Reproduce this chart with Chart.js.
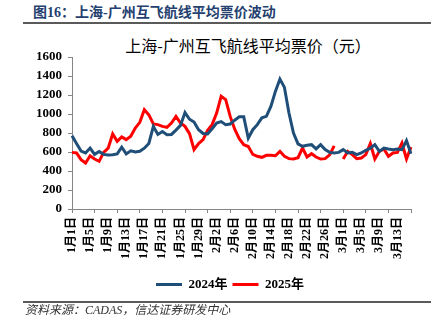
<!DOCTYPE html>
<html><head><meta charset="utf-8">
<script src="https://cdn.jsdelivr.net/npm/chart.js@4/dist/chart.umd.min.js"></script>
<style>
html,body{margin:0;padding:0;background:#fff;}
body{width:440px;height:321px;overflow:hidden;position:relative;}
#c{position:absolute;left:0;top:0;}
.t{position:absolute;white-space:nowrap;}
#hdr{left:33px;top:6px;font:bold 14px/14px 'Liberation Serif','Noto Sans CJK SC',serif;color:#24406F;}
#ttl{left:248px;top:37px;transform:translateX(-50%);font:16px/16px 'Noto Sans CJK SC',serif;color:#000;}
#src{left:25px;top:304px;font:italic 12px/12px 'Liberation Serif','Noto Sans CJK SC',serif;color:#333;}
.rule{position:absolute;left:23px;width:408px;height:0;border-top:2px solid #5a5a5a;}
</style></head>
<body>
<div class="t" id="hdr">图16：上海-广州互飞航线平均票价波动</div>
<div class="rule" style="top:22px"></div>
<div class="t" id="ttl">上海-广州互飞航线平均票价（元）</div>
<canvas id="c" width="440" height="321"></canvas>
<div class="rule" style="top:301px"></div>
<div class="t" id="src">资料来源：CADAS，信达证券研发中心</div>
<script>
const dates = [
 '1月1日','1月2日','1月3日','1月4日','1月5日','1月6日','1月7日','1月8日','1月9日','1月10日',
 '1月11日','1月12日','1月13日','1月14日','1月15日','1月16日','1月17日','1月18日','1月19日','1月20日',
 '1月21日','1月22日','1月23日','1月24日','1月25日','1月26日','1月27日','1月28日','1月29日','1月30日','1月31日',
 '2月1日','2月2日','2月3日','2月4日','2月5日','2月6日','2月7日','2月8日','2月9日','2月10日',
 '2月11日','2月12日','2月13日','2月14日','2月15日','2月16日','2月17日','2月18日','2月19日','2月20日',
 '2月21日','2月22日','2月23日','2月24日','2月25日','2月26日','2月27日','2月28日','2月29日',
 '3月1日','3月2日','3月3日','3月4日','3月5日','3月6日','3月7日','3月8日','3月9日','3月10日',
 '3月11日','3月12日','3月13日','3月14日','3月15日','3月16日'
];
const fare2024 = [
 772,690,610,590,642,575,605,575,568,572,
 580,650,580,612,600,607,640,690,870,785,
 815,782,785,830,880,1015,945,915,835,795,
 790,845,905,920,888,895,935,970,970,745,
 835,888,960,975,1080,1238,1368,1280,1010,800,
 685,660,670,677,632,677,625,596,590,596,
 625,590,596,572,590,618,640,677,607,642,
 632,625,632,625,720,582
];
const fare2025 = [
 596,590,519,484,560,526,502,596,640,790,
 712,758,730,765,853,912,1046,990,895,888,
 870,860,905,975,905,870,793,625,688,730,
 828,888,1010,1186,1151,975,840,740,677,658,
 575,555,544,565,565,561,607,554,530,526,
 540,642,547,582,547,526,530,570,665,null,
 526,607,572,530,537,572,688,526,607,632,
 554,590,596,695,526,653
];
const seriesNames = ['2024年','2025年'];
const yTicks = {min:0, max:1600, step:200};

const serif = "'Liberation Serif','Noto Sans CJK SC',serif";
const axisGray = '#868686';

new Chart(document.getElementById('c'), {
  type: 'line',
  data: {
    labels: dates,
    datasets: [
      {label: seriesNames[0], data: fare2024, borderColor:'#1F4E79', backgroundColor:'#1F4E79', borderWidth:3, pointRadius:0, tension:0},
      {label: seriesNames[1], data: fare2025, borderColor:'#FF0000', backgroundColor:'#FF0000', borderWidth:3, pointRadius:0, tension:0}
    ]
  },
  options: {
    responsive:false, animation:false, devicePixelRatio:1,
    layout:{padding:{left:20, right:0, top:57, bottom:20}},
    plugins:{
      title:{display:false},
      tooltip:{enabled:false},
      legend:{
        position:'bottom',
        labels:{
          boxWidth:26, boxHeight:3, padding:5, color:'#000',
          font:{family:serif, size:13, weight:'bold'},
          generateLabels(chart){
            const items = Chart.defaults.plugins.legend.labels.generateLabels(chart);
            items.forEach(it=>{ it.lineWidth = 0; it.fillStyle = it.strokeStyle; });
            return items;
          }
        }
      }
    },
    scales:{
      x:{
        type:'category', offset:false,
        grid:{drawOnChartArea:false, drawTicks:true, tickLength:4,
              tickColor:(ctx)=> (ctx.index % 5 === 0 ? axisGray : 'rgba(0,0,0,0)')},
        border:{color:axisGray, width:1},
        ticks:{autoSkip:false, minRotation:90, maxRotation:90, padding:4, color:'#000',
               font:{family:serif, size:12, weight:'bold'},
               callback(v, i){ return i % 4 === 0 ? this.getLabelForValue(v) : ''; }},
        afterFit(s){ s.height = 64; }
      },
      y:{
        min:yTicks.min, max:yTicks.max,
        grid:{drawOnChartArea:false, drawTicks:true, tickLength:4, tickColor:axisGray},
        border:{color:axisGray, width:1},
        ticks:{stepSize:yTicks.step, padding:6, color:'#000', font:{family:serif, size:13, weight:'bold'},
               callback:(v)=> String(v)},
        afterFit(s){ s.width = 52; }
      },
      yR:{
        position:'right', display:true,
        grid:{display:false, drawTicks:false}, border:{display:false},
        ticks:{display:false},
        afterFit(s){ s.width = 29; }
      }
    }
  }
});
</script>
</body></html>
